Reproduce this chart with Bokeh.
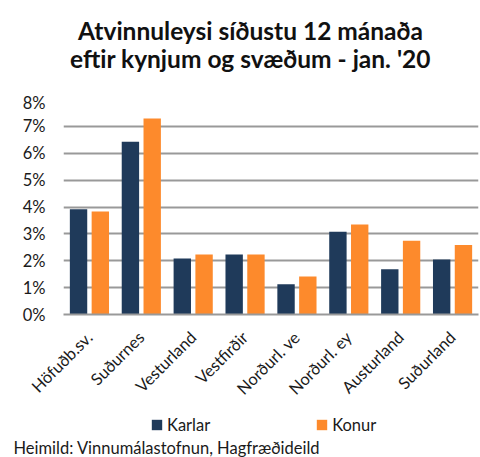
from bokeh.plotting import figure
from bokeh.models import (ColumnDataSource, FactorRange, Range1d, FixedTicker,
                          NumeralTickFormatter, Legend, LegendItem, Label, Title)
from bokeh.layouts import column
from bokeh.transform import dodge
from bokeh.embed import file_html
from bokeh.resources import INLINE
from math import pi

categories = ["Höfuðb.sv.", "Suðurnes", "Vesturland", "Vestfirðir",
              "Norðurl. ve", "Norðurl. ey", "Austurland", "Suðurland"]
karlar = [0.0392, 0.0643, 0.0208, 0.0223, 0.0113, 0.0308, 0.0168, 0.0205]
konur = [0.0383, 0.0729, 0.0223, 0.0223, 0.0141, 0.0335, 0.0274, 0.0259]
series_names = ["Karlar", "Konur"]
y_ticks = [0, 0.01, 0.02, 0.03, 0.04, 0.05, 0.06, 0.07, 0.08]
title_lines = ["Atvinnuleysi síðustu 12 mánaða", "eftir kynjum og svæðum - jan. '20"]
source_text = "Heimild: Vinnumálastofnun, Hagfræðideild"

FONT = "Lato"
NAVY = "#1f3a5a"
ORANGE = "#fd8a2c"
GRID = "#999999"
TXT = "#1a1a1a"
FS = "16.5px"


def blank(height):
    f = figure(width=480, height=height, x_range=Range1d(0, 1),
               y_range=Range1d(0, 1), x_axis_type=None, y_axis_type=None,
               output_backend="svg", toolbar_location=None,
               min_border=0, outline_line_color=None)
    f.title.visible = False
    return f


# ---- title strip (frame is aligned with the chart frame: x 63..478) ----
top = blank(92)
for txt, yy in zip(title_lines, [62, 34.5]):
    top.add_layout(Label(x=187, y=yy, x_units="screen", y_units="screen", text=txt,
                         text_align="center", text_baseline="alphabetic",
                         text_font=FONT, text_font_style="bold",
                         text_font_size="24.5px", text_color="#111111"))

# ---- main chart ----
src = ColumnDataSource(data=dict(cat=categories, karlar=karlar, konur=konur))

p = figure(width=480, height=319, x_range=FactorRange(*categories),
           y_range=Range1d(0, 0.08), output_backend="svg", toolbar_location=None,
           min_border_left=63, min_border_right=2, min_border_top=7,
           min_border_bottom=97, outline_line_color=None)
p.title.visible = False

r1 = p.vbar(x=dodge("cat", -0.21, range=p.x_range), top="karlar", width=0.335,
            source=src, fill_color=NAVY, line_color=None)
r2 = p.vbar(x=dodge("cat", 0.21, range=p.x_range), top="konur", width=0.335,
            source=src, fill_color=ORANGE, line_color=None)

p.xgrid.visible = False
p.ygrid.grid_line_color = GRID
p.ygrid.grid_line_width = 2
p.yaxis.ticker = FixedTicker(ticks=y_ticks)
p.yaxis.formatter = NumeralTickFormatter(format="0%")
p.yaxis.axis_line_color = None
p.yaxis.major_tick_line_color = None
p.yaxis.major_tick_out = 0
p.yaxis.major_tick_in = 0
p.yaxis.minor_tick_line_color = None
p.yaxis.major_label_standoff = 18
p.yaxis.major_label_text_font = FONT
p.yaxis.major_label_text_font_size = FS
p.yaxis.major_label_text_color = TXT

p.xaxis.axis_line_color = GRID
p.xaxis.axis_line_width = 2
p.xaxis.major_tick_line_color = None
p.xaxis.major_tick_out = 0
p.xaxis.major_tick_in = 0
p.xaxis.minor_tick_line_color = None
p.xaxis.major_label_orientation = pi / 4
p.xaxis.major_label_standoff = 20
p.xaxis.major_label_text_font = FONT
p.xaxis.major_label_text_font_size = FS
p.xaxis.major_label_text_color = TXT

# ---- legend + source strip ----
bot = blank(46)
# legend keys: zero-size stand-ins carrying the series colours
lk = bot.vbar(x=[0], top=[0], width=0, fill_color=r1.glyph.fill_color, line_color=None)
lw = bot.vbar(x=[0], top=[0], width=0, fill_color=r2.glyph.fill_color, line_color=None)
legend = Legend(items=[LegendItem(label=series_names[0], renderers=[lk]),
                       LegendItem(label=series_names[1], renderers=[lw])],
                location=(87, 0.5), orientation="horizontal",
                glyph_width=13, glyph_height=13, label_standoff=4, spacing=105,
                padding=0, margin=0, border_line_color=None,
                background_fill_alpha=0, label_text_font=FONT,
                label_text_font_size=FS, label_text_color=TXT)
bot.add_layout(legend)
bot.add_layout(Title(text=source_text, align="left", offset=-50, standoff=0,
                     text_font=FONT, text_font_style="normal",
                     text_font_size=FS, text_color=TXT), "below")

layout = column(top, p, bot, spacing=0)
open("out.html", "w").write(file_html(layout, INLINE))
